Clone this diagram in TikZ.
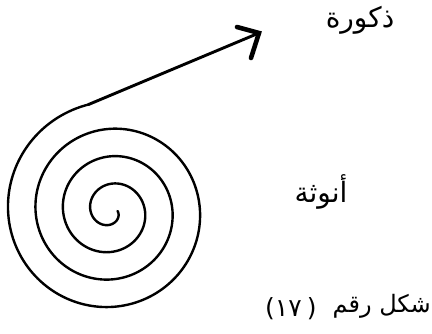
\documentclass[tikz,border=0pt]{standalone}
\usepackage{fontspec}
\newfontfamily\arabicfont[Script=Arabic]{DejaVu Sans}
\newfontfamily\numfont{DejaVu Sans}
\TeXXeTstate=1
\begin{document}
\begin{tikzpicture}[x=1pt,y=-1pt,
  spiralline/.style={line width=2.4pt,line cap=round,line join=round},
  shaftline/.style={line width=2.9pt,line cap=round},
  headline/.style={line width=4.6pt,line cap=round,line join=miter},
  label/.style={font=\arabicfont\fontsize{28}{30}\selectfont,inner sep=0pt},
  caplabel/.style={font=\arabicfont\fontsize{24}{28}\selectfont,inner sep=0pt},
  numlabel/.style={font=\numfont\fontsize{25}{28}\selectfont,inner sep=0pt}]
\useasboundingbox (0,0) rectangle (432,333);
\coordinate (send) at (88.3,104.6);
\coordinate (tip) at (259,33);
\coordinate (armA) at (237,27);
\coordinate (armB) at (251,58);
\draw[spiralline] plot[domain=0:1338,samples=600,variable=\t]
  ({110.9+(6.6+0.076389*\t)*cos(\t)},{211+(6.6+0.076389*\t)*sin(\t)});
\draw[shaftline] (send) -- (tip);
\draw[headline] (armA) -- (tip) -- (armB);
\node[label] (male) at (360,20) {\beginR ذكورة\endR};
\node[label] (female) at (321,192) {\beginR أنوثة\endR};
\node[numlabel,anchor=west] (num) at (265,309) {(١٧\hspace{5pt})};
\node[caplabel,anchor=east] (caption) at (431,306) {\beginR شكل رقم\endR};
\end{tikzpicture}
\end{document}
